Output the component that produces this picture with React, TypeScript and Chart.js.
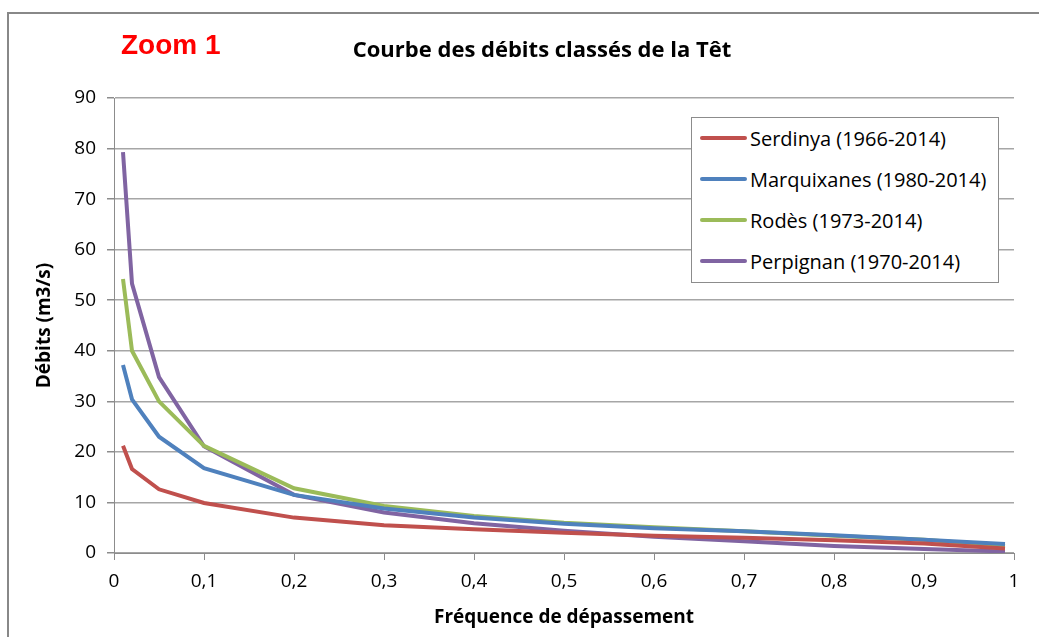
import React, { useEffect, useRef } from "react";
import { Chart, registerables } from "chart.js";

Chart.register(...registerables);

const frequencies = [0.01, 0.02, 0.05, 0.1, 0.2, 0.3, 0.4, 0.5, 0.6, 0.7, 0.8, 0.9, 0.99];
const serdinya = [21.2, 16.6, 12.6, 9.9, 7.0, 5.5, 4.7, 4.0, 3.4, 3.0, 2.5, 1.9, 0.9];
const marquixanes = [37.2, 30.4, 23.0, 16.8, 11.5, 8.8, 7.0, 5.8, 4.9, 4.3, 3.5, 2.6, 1.8];
const rodes = [54.2, 40.0, 30.0, 21.2, 12.8, 9.3, 7.3, 6.0, 5.1, 4.3, 3.4, 2.6, 1.4];
const perpignan = [79.3, 53.3, 34.8, 21.1, 11.5, 8.0, 5.9, 4.4, 3.2, 2.3, 1.4, 0.8, 0.3];

const seriesNames = [
  "Serdinya (1966-2014)",
  "Marquixanes (1980-2014)",
  "Rodès (1973-2014)",
  "Perpignan (1970-2014)",
];
const seriesValues = [serdinya, marquixanes, rodes, perpignan];
const seriesColors = ["#c0504d", "#4f81bd", "#9bbb59", "#8064a2"];

const chartTitle = "Courbe des débits classés de la Têt";
const xTitle = "Fréquence de dépassement";
const yTitle = "Débits (m3/s)";
const FONT = "'Open Sans', sans-serif";

export default function App() {
  const canvasRef = useRef<HTMLCanvasElement | null>(null);

  useEffect(() => {
    if (!canvasRef.current) return;
    const fmt = (v: number) => String(Math.round(v * 10) / 10).replace(".", ",");
    const chart = new Chart(canvasRef.current, {
      type: "line",
      data: {
        datasets: seriesNames.map((name, i) => ({
          label: name,
          data: frequencies.map((f, j) => ({ x: f, y: seriesValues[i][j] })),
          borderColor: seriesColors[i],
          backgroundColor: seriesColors[i],
          borderWidth: 4,
          pointRadius: 0,
          tension: 0,
          fill: false,
        })),
      },
      options: {
        animation: false,
        responsive: false,
        maintainAspectRatio: false,
        layout: { padding: { left: 30, top: 98, right: 25, bottom: 0 } },
        plugins: {
          legend: { display: false },
          title: { display: false },
          tooltip: { enabled: false },
        },
        scales: {
          x: {
            type: "linear",
            min: 0,
            max: 1,
            ticks: {
              stepSize: 0.1,
              autoSkip: false,
              maxRotation: 0,
              color: "#000",
              padding: 10,
              font: { family: FONT, size: 19 },
              callback: (v: any) => fmt(Number(v)),
            },
            grid: {
              drawOnChartArea: false,
              drawTicks: true,
              tickLength: 7,
              tickColor: "#8c8c8c",
              color: "#8c8c8c",
            },
            border: { color: "#8c8c8c", width: 1 },
            title: {
              display: true,
              text: xTitle,
              color: "#000",
              font: { family: FONT, size: 19, weight: "bold" },
              padding: { top: 4, bottom: 8 },
            },
            afterFit: (s: any) => {
              s.height = 84;
            },
          },
          y: {
            type: "linear",
            min: 0,
            max: 90,
            ticks: {
              stepSize: 10,
              color: "#000",
              padding: 11,
              font: { family: FONT, size: 19 },
            },
            grid: {
              color: "#a6a6a6",
              tickColor: "#8c8c8c",
              tickLength: 7,
              lineWidth: 1.5,
            },
            border: { color: "#8c8c8c", width: 1 },
            title: {
              display: true,
              text: yTitle,
              color: "#000",
              font: { family: FONT, size: 19, weight: "bold" },
              padding: { top: 3, bottom: 4 },
            },
            afterFit: (s: any) => {
              s.width = 84;
            },
          },
        },
      },
    } as any);
    return () => chart.destroy();
  }, []);

  return (
    <div
      style={{
        position: "fixed",
        left: 0,
        top: 0,
        width: 1039,
        height: 637,
        overflow: "hidden",
        background: "#fff",
        fontFamily: FONT,
      }}
    >
      <div
        style={{
          position: "absolute",
          left: 7,
          top: 12,
          width: 1100,
          height: 700,
          borderLeft: "2px solid #888",
          borderTop: "2px solid #888",
        }}
      />
      <canvas
        ref={canvasRef}
        width={1039}
        height={637}
        style={{ position: "absolute", left: 0, top: 0, width: 1039, height: 637 }}
      />
      <div
        style={{
          position: "absolute",
          left: 121,
          top: 25,
          color: "#ff0000",
          fontWeight: "bold",
          fontSize: 28,
          fontFamily: "'Liberation Sans', sans-serif",
          lineHeight: "40px",
          whiteSpace: "nowrap",
        }}
      >
        Zoom 1
      </div>
      <div
        style={{
          position: "absolute",
          left: 242,
          width: 600,
          top: 33,
          textAlign: "center",
          color: "#000",
          fontWeight: "bold",
          fontSize: 22,
          lineHeight: "30px",
          whiteSpace: "nowrap",
        }}
      >
        {chartTitle}
      </div>
      <div
        style={{
          position: "absolute",
          left: 691,
          top: 117,
          width: 306,
          height: 164,
          border: "1px solid #8c8c8c",
          background: "#fff",
        }}
      >
        {seriesNames.map((name, i) => (
          <div
            key={name}
            style={{
              position: "absolute",
              left: 8,
              top: 5 + i * 41,
              height: 30,
              display: "flex",
              alignItems: "center",
              whiteSpace: "nowrap",
            }}
          >
            <div
              style={{
                width: 47,
                height: 4,
                background: seriesColors[i],
                borderRadius: 2,
                marginRight: 3,
              }}
            />
            <span style={{ fontSize: 20, color: "#000" }}>{name}</span>
          </div>
        ))}
      </div>
    </div>
  );
}
